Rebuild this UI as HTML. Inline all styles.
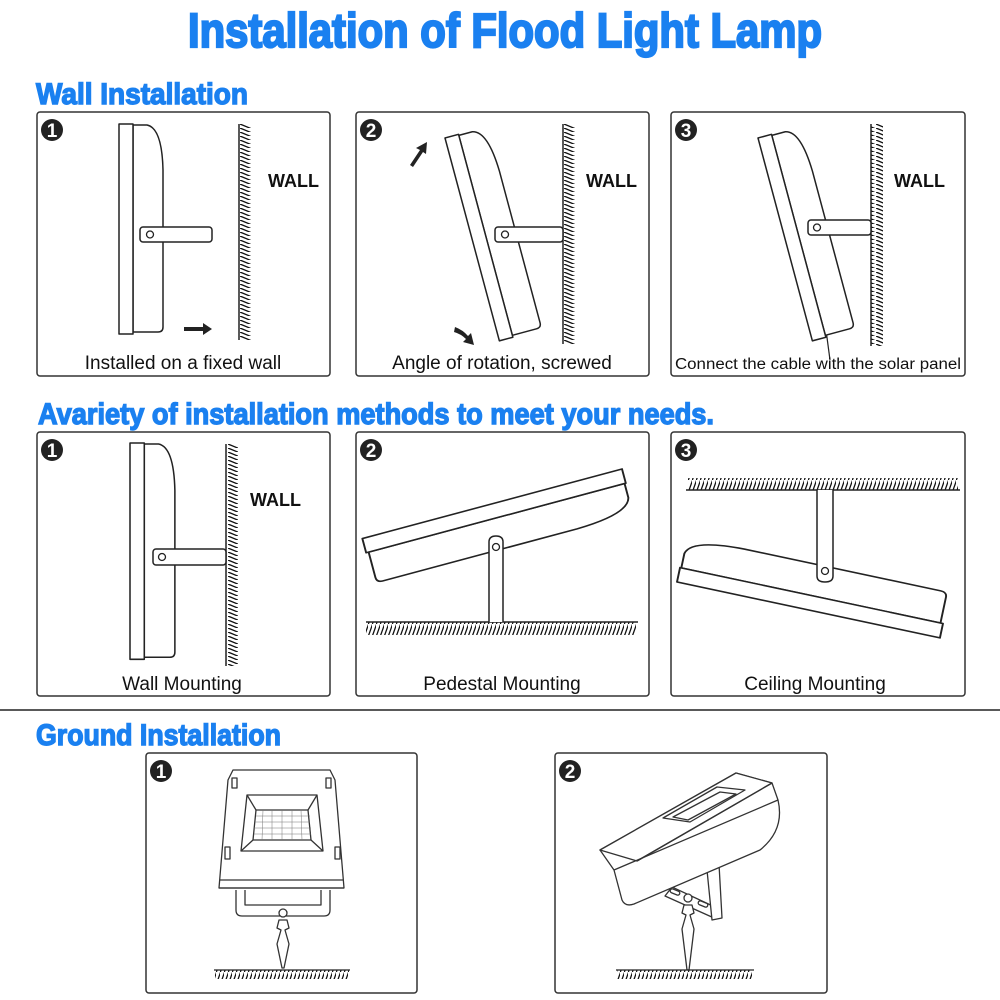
<!DOCTYPE html>
<html><head><meta charset="utf-8"><style>
html,body{margin:0;padding:0;background:#fff;}
svg{display:block;}
</style></head><body>
<svg width="1000" height="1000" viewBox="0 0 1000 1000" xmlns="http://www.w3.org/2000/svg" font-family="Liberation Sans, sans-serif">
<defs>
<pattern id="hv" patternUnits="userSpaceOnUse" width="12" height="4"><line x1="0" y1="0" x2="12" y2="5" stroke="#111" stroke-width="1.3"/></pattern>
<pattern id="hh" patternUnits="userSpaceOnUse" width="4" height="12"><line x1="0" y1="13" x2="5" y2="-1" stroke="#111" stroke-width="1.3"/></pattern>
<g id="lamp" fill="#fff" stroke="#222" stroke-width="1.5" stroke-linejoin="round">
<path d="M14,1 L28,1 Q43,4 44,46 L44,203 Q44,208 39,208 L14,208 Z"/>
<rect x="0" y="0" width="14" height="210"/>
</g>
<g id="num1"><circle r="11" fill="#222"/><text y="7" text-anchor="middle" font-size="19" font-weight="bold" fill="#fff">1</text></g>
<g id="num2"><circle r="11" fill="#222"/><text y="7" text-anchor="middle" font-size="19" font-weight="bold" fill="#fff">2</text></g>
<g id="num3"><circle r="11" fill="#222"/><text y="7" text-anchor="middle" font-size="19" font-weight="bold" fill="#fff">3</text></g>
</defs>

<g fill="#1a80f0" stroke="#1a80f0" font-weight="bold">
<text x="188" y="47" font-size="48" stroke-width="2.2" textLength="634" lengthAdjust="spacingAndGlyphs">Installation of Flood Light Lamp</text>
<text x="36" y="104" font-size="30" stroke-width="1.4" textLength="212" lengthAdjust="spacingAndGlyphs">Wall Installation</text>
<text x="38" y="424" font-size="30" stroke-width="1.4" textLength="676" lengthAdjust="spacingAndGlyphs">Avariety of installation methods to meet your needs.</text>
<text x="36" y="745" font-size="30" stroke-width="1.4" textLength="245" lengthAdjust="spacingAndGlyphs">Ground Installation</text>
</g>
<line x1="0" y1="710" x2="1000" y2="710" stroke="#222" stroke-width="1.5"/>

<g fill="none" stroke="#333" stroke-width="1.5">
<rect x="37" y="112" width="293" height="264" rx="3"/>
<rect x="356" y="112" width="293" height="264" rx="3"/>
<rect x="671" y="112" width="294" height="264" rx="3"/>
<rect x="37" y="432" width="293" height="264" rx="3"/>
<rect x="356" y="432" width="293" height="264" rx="3"/>
<rect x="671" y="432" width="294" height="264" rx="3"/>
<rect x="146" y="753" width="271" height="240" rx="3"/>
<rect x="555" y="753" width="272" height="240" rx="3"/>
</g>
<use href="#num1" x="52" y="130"/><use href="#num2" x="371" y="130"/><use href="#num3" x="686" y="130"/>
<use href="#num1" x="52" y="450"/><use href="#num2" x="371" y="450"/><use href="#num3" x="686" y="450"/>
<use href="#num1" x="161" y="771"/><use href="#num2" x="570" y="771"/>

<!-- Row1 panel1 -->
<rect x="239" y="124" width="12" height="216" fill="url(#hv)"/><line x1="239" y1="124" x2="239" y2="340" stroke="#222" stroke-width="1.5"/>
<text x="268" y="187" font-size="18" font-weight="bold" fill="#111">WALL</text>
<use href="#lamp" x="119" y="124"/>
<rect x="140" y="227" width="72" height="15" rx="3" fill="#fff" stroke="#222" stroke-width="1.5"/><circle cx="150" cy="234.5" r="3.5" fill="#fff" stroke="#222" stroke-width="1.3"/>
<path d="M184,327 H203 V323 L212,329 L203,335 V331 H184 Z" fill="#222"/>
<text x="183" y="369" font-size="19" text-anchor="middle" fill="#111">Installed on a fixed wall</text>

<!-- Row1 panel2 -->
<rect x="563" y="124" width="12" height="220" fill="url(#hv)"/><line x1="563" y1="124" x2="563" y2="344" stroke="#222" stroke-width="1.5"/>
<text x="586" y="187" font-size="18" font-weight="bold" fill="#111">WALL</text>
<g transform="translate(445,138) rotate(-15)"><use href="#lamp"/></g>
<rect x="495" y="227" width="68" height="15" rx="3" fill="#fff" stroke="#222" stroke-width="1.5"/><circle cx="505" cy="234.5" r="3.5" fill="#fff" stroke="#222" stroke-width="1.3"/>
<path d="M410,165 L420,150 L416,148 L427,142 L426,154 L423,152 L413,167 Z" fill="#222"/>
<path d="M455,327 Q463,330 468,336 L471,333 L474,345 L463,342 L466,339 Q461,334 454,332 Z" fill="#222"/>
<text x="502" y="369" font-size="19" text-anchor="middle" fill="#111">Angle of rotation, screwed</text>

<!-- Row1 panel3 -->
<rect x="871" y="124" width="12" height="222" fill="url(#hv)"/><line x1="871" y1="124" x2="871" y2="346" stroke="#222" stroke-width="1.5"/>
<text x="894" y="187" font-size="18" font-weight="bold" fill="#111">WALL</text>
<path d="M826,330 Q828,345 830,360" fill="none" stroke="#222" stroke-width="1.2"/>
<g transform="translate(758,138) rotate(-15)"><use href="#lamp"/></g>
<rect x="808" y="220" width="63" height="15" rx="3" fill="#fff" stroke="#222" stroke-width="1.5"/><circle cx="817" cy="227.5" r="3.5" fill="#fff" stroke="#222" stroke-width="1.3"/>
<text x="818" y="369" font-size="15.5" text-anchor="middle" fill="#111" textLength="286" lengthAdjust="spacingAndGlyphs">Connect the cable with the solar panel</text>

<!-- Row2 panel1 -->
<rect x="226" y="444" width="12" height="222" fill="url(#hv)"/><line x1="226" y1="444" x2="226" y2="666" stroke="#222" stroke-width="1.5"/>
<text x="250" y="506" font-size="18" font-weight="bold" fill="#111">WALL</text>
<g transform="translate(130,443) scale(1.02,1.03)"><use href="#lamp"/></g>
<rect x="153" y="549" width="73" height="16" rx="3" fill="#fff" stroke="#222" stroke-width="1.5"/><circle cx="162" cy="557" r="3.5" fill="#fff" stroke="#222" stroke-width="1.3"/>
<text x="182" y="690" font-size="19" text-anchor="middle" fill="#111">Wall Mounting</text>

<!-- Row2 panel2 -->
<rect x="366" y="622" width="270" height="13" fill="url(#hh)"/><line x1="366" y1="622" x2="638" y2="622" stroke="#222" stroke-width="1.5"/>
<g transform="translate(622,469) rotate(75) scale(1.05,1.28)"><use href="#lamp"/></g>
<path d="M489,622 V542 Q489,536 496,536 Q503,536 503,542 V622" fill="#fff" stroke="#222" stroke-width="1.5"/>
<circle cx="496" cy="547" r="3.5" fill="#fff" stroke="#222" stroke-width="1.3"/>
<text x="502" y="690" font-size="19" text-anchor="middle" fill="#111">Pedestal Mounting</text>

<!-- Row2 panel3 -->
<rect x="688" y="478" width="270" height="12" fill="url(#hh)"/><line x1="686" y1="490" x2="960" y2="490" stroke="#222" stroke-width="1.5"/>
<g transform="translate(677,582) rotate(-78) scale(1.05,1.28)"><use href="#lamp"/></g>
<path d="M817,490 V576 Q817,582 825,582 Q833,582 833,576 V490" fill="#fff" stroke="#222" stroke-width="1.5"/>
<circle cx="825" cy="571" r="3.5" fill="#fff" stroke="#222" stroke-width="1.3"/>
<text x="815" y="690" font-size="19" text-anchor="middle" fill="#111">Ceiling Mounting</text>

<!-- Ground panel1 -->
<g fill="#fff" stroke="#333" stroke-width="1.3" stroke-linejoin="round">
<path d="M236,890 L236,910 Q236,916 242,916 L324,916 Q330,916 330,910 L330,890"/>
<path d="M245,890 L245,905 L321,905 L321,890" fill="none"/>
<path d="M233,770 L330,770 L335,780 L344,888 L219,888 L228,780 Z"/>
<line x1="219" y1="888" x2="344" y2="888"/>
<line x1="220" y1="880" x2="343" y2="880"/>
<rect x="232" y="778" width="5" height="10"/><rect x="326" y="778" width="5" height="10"/>
<rect x="225" y="847" width="5" height="12"/><rect x="335" y="847" width="5" height="12"/>
<path d="M247,795 L317,795 L323,851 L241,851 Z"/>
<path d="M256,810 L308,810 L311,840 L253,840 Z"/>
<line x1="247" y1="795" x2="256" y2="810"/><line x1="317" y1="795" x2="308" y2="810"/><line x1="323" y1="851" x2="311" y2="840"/><line x1="241" y1="851" x2="253" y2="840"/>
<circle cx="283" cy="913" r="4"/>
<path d="M279,920 L287,920 L289,928 L285,930 L289,944 L284,968 L282,968 L277,944 L281,930 L277,928 Z"/>
</g>
<g stroke="#777" stroke-width="0.5"><line x1="256" y1="816" x2="310" y2="816"/><line x1="255" y1="822" x2="310" y2="822"/><line x1="254" y1="828" x2="311" y2="828"/><line x1="254" y1="834" x2="311" y2="834"/>
<line x1="263" y1="810" x2="262" y2="840"/><line x1="272" y1="810" x2="272" y2="840"/><line x1="282" y1="810" x2="282" y2="840"/><line x1="292" y1="810" x2="292" y2="840"/><line x1="301" y1="810" x2="302" y2="840"/></g>
<rect x="215" y="970" width="134" height="9" fill="url(#hh)"/><line x1="214" y1="970" x2="350" y2="970" stroke="#222" stroke-width="1.3"/>

<!-- Ground panel2 -->
<g fill="#fff" stroke="#333" stroke-width="1.3" stroke-linejoin="round">
<path d="M665,896 L672,887 L717,908 L714,918 Z"/>
<path d="M705,850 L718,846 L722,918 L712,920 Z"/>
<circle cx="713" cy="853" r="2.5"/>
<path d="M600,850 L736,773 L772,783 L778,800 Q785,830 760,850 L634,904 Q625,907 622,900 L614,870 Z"/>
<path d="M600,850 L736,773 L772,783 L637,861 Z"/>
<line x1="637" y1="861" x2="772" y2="783"/>
<line x1="614" y1="870" x2="778" y2="800"/>
<path d="M663,818 L717,787 L745,790 L690,822 Z"/>
<path d="M673,817 L720,792 L736,794 L688,820 Z"/>
<rect x="670" y="890" width="10" height="4" rx="2" transform="rotate(22 675 892)"/>
<rect x="698" y="902" width="10" height="4" rx="2" transform="rotate(22 703 904)"/>
<circle cx="688" cy="898" r="4"/>
<path d="M684,905 L692,905 L694,913 L690,915 L694,929 L689,970 L687,970 L682,929 L686,915 L682,913 Z"/>
</g>
<rect x="617" y="970" width="135" height="9" fill="url(#hh)"/><line x1="616" y1="970" x2="754" y2="970" stroke="#222" stroke-width="1.3"/>
</svg>
</body></html>
